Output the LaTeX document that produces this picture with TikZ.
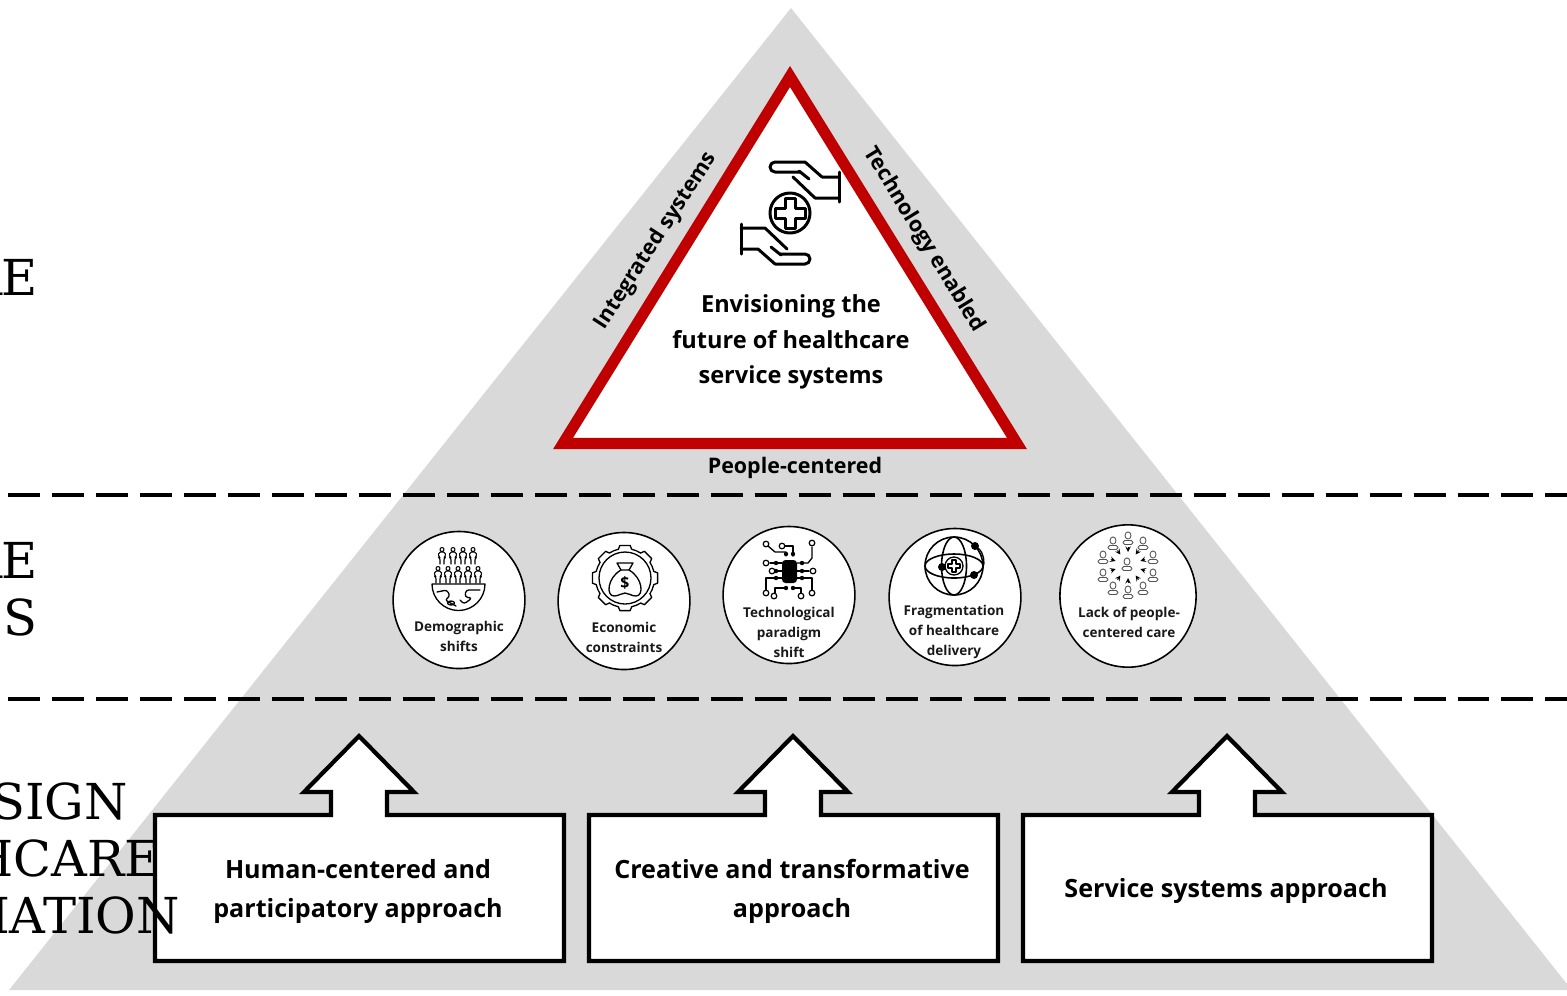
\documentclass[tikz,border=0pt]{standalone}
\usepackage{fontspec}
\setmainfont{Open Sans}
\newfontfamily\leftserif{DejaVu Serif}
\usetikzlibrary{shapes.geometric}
\definecolor{pyramidgray}{HTML}{D9D9D9}
\definecolor{visionred}{HTML}{C00000}
\definecolor{peoplegray}{HTML}{555555}
\tikzset{
  causecircle/.style={draw, ellipse, fill=white, line width=0.9pt, inner sep=0pt},
  causetext/.style={font=\fontsize{7.7}{11.4}\selectfont\bfseries, align=center, text=black!90},
  boxtext/.style={font=\fontsize{14.3}{22.2}\selectfont\bfseries, align=center},
  visiontext/.style={font=\fontsize{13.4}{20.4}\selectfont\bfseries, align=center},
  edgetext/.style={font=\fontsize{12.2}{14}\selectfont\bfseries},
  leveltext/.style={font=\fontsize{28.2}{30}\selectfont\leftserif, anchor=base east, inner sep=0pt},
  boxline/.style={draw, fill=white, line width=2.4pt, line join=miter},
  icon/.style={line width=0.75pt, line join=round, line cap=round},
  levelline/.style={line width=2.2pt, dash pattern=on 18.2pt off 6.8pt},
  demoperson/.pic={
    \draw[icon, line width=0.6pt] (0,-6.5) circle (2);
    \draw[icon, line width=0.6pt, rounded corners=1pt] (-2,8)--(-2,2)--(-3.4,1)--(-3.4,-4)--(3.4,-4)--(3.4,1)--(2,2)--(2,8);
  },
  ringperson/.pic={
    \draw[peoplegray, line width=0.5pt] (0,-2.5) ellipse (3 and 3.6);
    \draw[peoplegray, line width=0.5pt, rounded corners=1pt] (-5,6.5)--(-5,2.5)--(5,2.5)--(5,6.5)--cycle;
  },
  openend/.style={draw, line width=0.7pt, fill=white},
}
\begin{document}
\begin{tikzpicture}[x=0.02cm, y=-0.02cm]
  \useasboundingbox (0,0) rectangle (1567,995);
  % pyramid
  \fill[pyramidgray] (791,8) -- (1567,984) -- (1567,990) -- (9,990) -- cycle;

  % top level
  \draw[visionred, fill=white, line width=6.3pt, line join=miter, miter limit=10] (790,76.5) -- (1017,443.5) -- (563,443.5) -- cycle;
  \node (vision) [visiontext] at (791,342) {Envisioning the\\future of healthcare\\service systems};
  \node (integrated) [edgetext, rotate=57] at (656,241) {Integrated systems};
  \node (technology) [edgetext, rotate=-58.5] at (924,240) {Technology enabled};
  \node (people) [edgetext] at (795,468) {People-centered};

  % hands and cross
  \draw[icon, line width=1.7pt] (790,213) circle (20);
  \draw[icon, line width=1.7pt] (785,198) -- (795,198) -- (795,208) -- (805,208) -- (805,218) -- (795,218) -- (795,228) -- (785,228) -- (785,218) -- (775,218) -- (775,208) -- (785,208) -- cycle;
  \foreach \turn in {0,180}{
    \begin{scope}[rotate around={\turn:(790,213)}]
      \draw[icon, line width=1.7pt] (839,172) -- (839,202);
      \draw[icon, line width=1.7pt] (839,177) -- (822,177) -- (805,162) -- (775,162) arc[start angle=-90, end angle=-270, radius=5] -- (800,172);
      \draw[icon, line width=1.7pt] (793,177) -- (815,198) -- (839,198);
      \draw[icon, line width=1.7pt] (799,171) -- (809,179);
    \end{scope}
  }

  % level lines
  \coordinate (lineAleft) at (8,495);
  \coordinate (lineAright) at (1567,495);
  \coordinate (lineBleft) at (8,699);
  \coordinate (lineBright) at (1567,699);
  \draw[levelline] (lineAleft) -- (lineAright);
  \draw[levelline] (lineBleft) -- (lineBright);

  % causes
  \node (demographic) [causecircle, minimum width=75pt, minimum height=78pt] at (459,600) {};
  \node (economic) [causecircle, minimum width=75pt, minimum height=78pt] at (624,601) {};
  \node (paradigm) [causecircle, minimum width=75pt, minimum height=78pt] at (789,595) {};
  \node (fragmented) [causecircle, minimum width=75pt, minimum height=78pt] at (955,597) {};
  \node (lackcare) [causecircle, minimum width=77.5pt, minimum height=81pt] at (1128,596) {};

  \node (demographictext) [causetext] at (459,636) {Demographic\\shifts};
  \node (economictext) [causetext] at (624,637) {Economic\\constraints};
  \node (paradigmtext) [causetext] at (789,632) {Technological\\paradigm\\shift};
  \node (fragmentedtext) [causetext] at (954,632) {Fragmentation\\of healthcare\\delivery};
  \node (lackcaretext) [causetext] at (1129,622) {Lack of people-\\centered care};

  % demographic icon
  \foreach \x in {442,453,463,473} \pic at (\x,556) {demoperson};
  \foreach \x in {438,448,458,468,478} \pic at (\x,575) {demoperson};
  \draw[icon] (432,584) -- (485,584) arc[start angle=0, end angle=180, radius=26.5];
  \draw[icon, rounded corners=1.5pt] (437,592) -- (447,590) -- (450,596) -- (445,600) -- (456,606);
  \draw[icon, rounded corners=1.5pt] (480,590) -- (466,590) -- (465,597) -- (472,598) -- (464,604) -- (460,600);
  \draw[icon] (451,603) ellipse (3.5 and 2);

  % economic icon
  \begin{scope}[shift={(625,578)}]
    \foreach \a in {0,45,...,315}{
      \draw[icon] (\a-13:29.5) -- (\a-9:33) -- (\a+9:33) -- (\a+13:29.5) arc[start angle=\a+13, end angle=\a+32, radius=29.5];
    }
    \draw[icon] (0,0) circle (26);
    \draw[icon] (-8,-15) -- (8,-15) -- (4,-8) -- (-4,-8) -- cycle;
    \draw[icon] (-4,-8) .. controls (-18,0) and (-19,18) .. (-11,18) .. controls (-6,18) and (-4,15) .. (0,15) .. controls (4,15) and (6,18) .. (11,18) .. controls (19,18) and (18,0) .. (4,-8);
    \node (dollar) [font=\fontsize{9}{9}\selectfont\bfseries, inner sep=0pt] at (0,5) {\$};
  \end{scope}

  % technology icon
  \fill[rounded corners=2pt] (782,560) rectangle (797,583);
  \foreach \x/\y in {786/554,793/554,786/588,793/588,776/563,776/571,776/578,802/563,802/571,802/578}
    \fill (\x,\y) circle (2.2);
  \draw[icon] (768,546) -- (775,552) -- (786,552) -- (786,556);
  \draw[icon] (785,546) -- (793,546) -- (793,556);
  \draw[icon] (812,547) -- (812,558) -- (808,563) -- (797,563);
  \draw[icon] (770,563) -- (782,563);
  \draw[icon] (776,571) -- (782,571);
  \draw[icon] (782,578) -- (766,578) -- (766,590);
  \draw[icon] (797,571) -- (809,571);
  \draw[icon] (797,578) -- (812,578) -- (812,590);
  \draw[icon] (786,588) -- (775,588) -- (775,593);
  \draw[icon] (793,588) -- (801,588) -- (801,593);
  \foreach \x/\y in {766/544,782/546,812/543,766/563,772/571,766/593,813/571,812/593,774/596,801/596}
    \draw[openend] (\x,\y) circle (2.8);

  % fragmentation icon
  \draw[icon, line width=0.9pt] (954,566) circle (29);
  \draw[icon, line width=0.9pt] (954,566) ellipse (12.5 and 29);
  \draw[icon, line width=0.9pt] (954,566) ellipse (29 and 12);
  \draw[icon, fill=white] (954,566) circle (9);
  \draw[icon, line width=0.6pt] (952,560) -- (956,560) -- (956,564) -- (960,564) -- (960,568) -- (956,568) -- (956,572) -- (952,572) -- (952,568) -- (948,568) -- (948,564) -- (952,564) -- cycle;
  \foreach \x/\y in {975/546,942/567,974/575} \fill (\x,\y) circle (4);
  \draw[icon] (978,548) .. controls (984,553) and (985,562) .. (983,568);

  % people icon
  \foreach \x/\y in {1127/564,1128/538,1143/543,1153/557,1153/575,1143/588,1128/592,1113/588,1103/575,1103/557,1113/543}
    \pic at (\x,\y) {ringperson};
  \foreach \a in {18,54,90,126,162,198,234,270,306,342}{
    \draw[-stealth, line width=0.4pt, shift={(1128,565)}] (\a:18) -- (\a:13);
  }

  % approach boxes
  \foreach \bx in {155,589,1023}{
    \draw[boxline] (\bx,815) -- ++(176,0) -- ++(0,-23) -- ++(-27,0) -- ++(55,-56) -- ++(55,56) -- ++(-27,0) -- ++(0,23) -- ++(177,0) -- ++(0,146) -- ++(-409,0) -- cycle;
  }
  \node (human) [boxtext] at (358,891) {Human-centered and\\participatory approach};
  \node (creative) [boxtext] at (792,891) {Creative and transformative\\approach};
  \node (systems) [boxtext] at (1226,891) {Service systems approach};

  % level names
  \node (futureA) [leveltext] at (38,295) {RE};
  \node (futureB) [leveltext] at (38,578) {RE};
  \node (futureC) [leveltext] at (38,635) {ES};
  \node (designA) [leveltext] at (128,819) {SIGN};
  \node (designB) [leveltext] at (161,876) {HCARE};
  \node (designC) [leveltext] at (180,933) {MATION};
\end{tikzpicture}
\end{document}
